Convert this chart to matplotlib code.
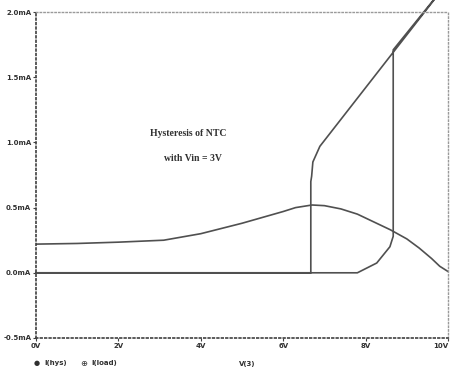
import matplotlib
matplotlib.use("Agg")
import matplotlib.pyplot as plt
import numpy as np

# Swept input voltage (V) and NTC currents (mA)
load_v = [0.0, 1.0, 2.0, 3.1, 4.0, 4.5, 5.0, 5.5, 6.0, 6.3, 6.7, 7.0,
          7.4, 7.8, 8.2, 8.6, 9.0, 9.3, 9.6, 9.8, 10.0]
load_i = [0.22, 0.225, 0.235, 0.25, 0.30, 0.34, 0.38, 0.425, 0.47, 0.50, 0.52, 0.515,
          0.49, 0.45, 0.39, 0.33, 0.26, 0.19, 0.11, 0.05, 0.01]

# Hysteresis trace: upward sweep then downward sweep
hys_v = [0.0, 7.8, 8.27, 8.59, 8.67, 8.67, 10.0,
         10.0, 6.89, 6.72, 6.69, 6.67, 6.67, 0.0]
hys_i = [0.0, 0.0, 0.075, 0.20, 0.28, 1.71, 2.23,
         2.23, 0.97, 0.85, 0.74, 0.70, 0.0, 0.0]

x_ticks = [0, 2, 4, 6, 8, 10]
x_labels = ["0V", "2V", "4V", "6V", "8V", "10V"]
y_ticks = [-0.5, 0.0, 0.5, 1.0, 1.5, 2.0]
y_labels = ["-0.5mA", "0.0mA", "0.5mA", "1.0mA", "1.5mA", "2.0mA"]

line_col = "#505050"
axis_col = "#404040"

fig = plt.figure(figsize=(4.54, 3.72), dpi=100)
ax = fig.add_axes([0.0793, 0.0914, 0.9075, 0.8763])

ax.plot(load_v, load_i, color=line_col, lw=1.2)
ax.plot(hys_v, hys_i, color=line_col, lw=1.2, clip_on=False)

ax.set_xlim(0, 10)
ax.set_ylim(-0.5, 2.0)
ax.set_xticks(x_ticks)
ax.set_xticklabels(x_labels)
ax.set_yticks(y_ticks)
ax.set_yticklabels(y_labels)
ax.tick_params(axis="both", labelsize=5, length=2, width=0.8, color=axis_col,
               pad=1.5, labelcolor="#303030")
for lab in ax.get_xticklabels() + ax.get_yticklabels():
    lab.set_fontweight("bold")
ax.get_xticklabels()[-1].set_horizontalalignment("right")

for side in ["left", "bottom"]:
    ax.spines[side].set_linestyle(":")
    ax.spines[side].set_color(axis_col)
    ax.spines[side].set_linewidth(1.2)
for side in ["top", "right"]:
    ax.spines[side].set_linestyle(":")
    ax.spines[side].set_color("#9a9a9a")
    ax.spines[side].set_linewidth(1.0)

ax.text(3.7, 1.07, "Hysteresis of NTC", fontsize=7, fontweight="bold",
        family="Liberation Serif", ha="center", va="center", color="#303030")
ax.text(3.8, 0.88, "with Vin = 3V", fontsize=7, fontweight="bold",
        family="Liberation Serif", ha="center", va="center", color="#303030")

# x-axis label and trace legend below the plot
fig.text(247 / 454, 1 - 364 / 372, "V(3)", fontsize=5, fontweight="bold",
         ha="center", va="center", color="#303030")
fig.text(37 / 454, 1 - 363 / 372, "\u25CF", fontsize=5, ha="center", va="center",
         color="#303030")
fig.text(44 / 454, 1 - 363 / 372, "I(hys)", fontsize=5, fontweight="bold",
         ha="left", va="center", color="#303030")
fig.text(84 / 454, 1 - 363 / 372, "\u2295", fontsize=6, ha="center", va="center",
         color="#303030")
fig.text(91 / 454, 1 - 363 / 372, "I(load)", fontsize=5, fontweight="bold",
         ha="left", va="center", color="#303030")

fig.savefig("out.png", dpi=100)
